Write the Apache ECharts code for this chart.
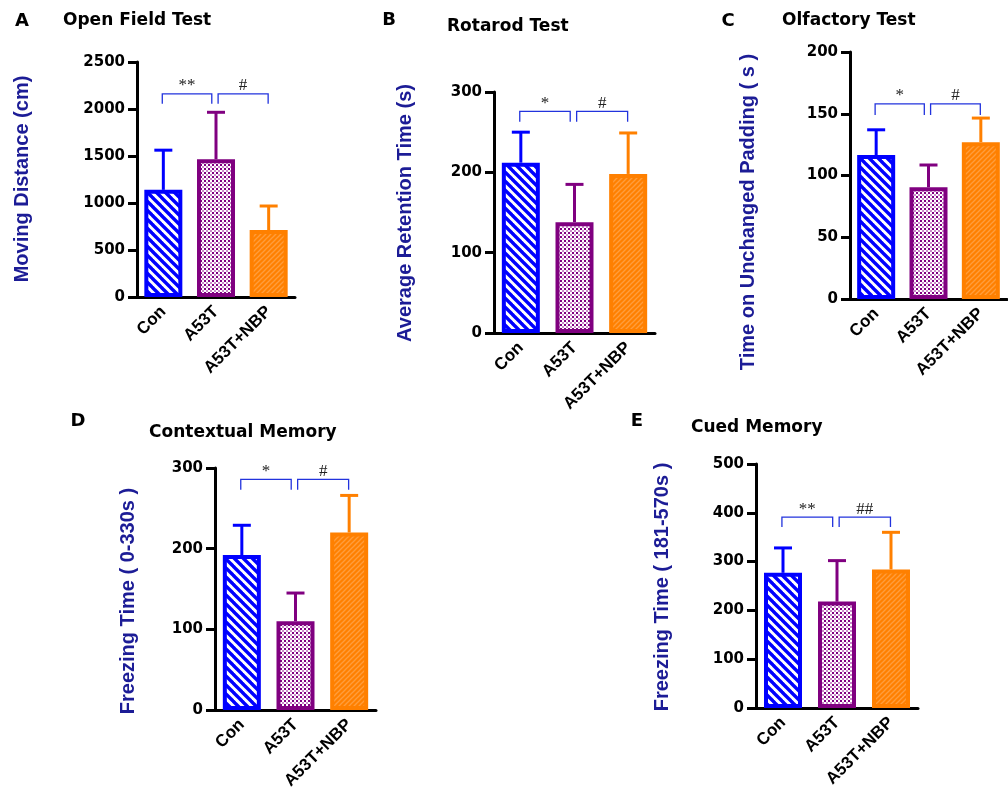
<!DOCTYPE html>
<html>
<head>
<meta charset="utf-8">
<script src="https://cdn.jsdelivr.net/npm/echarts@6/dist/echarts.min.js"></script>
<style>html,body{margin:0;padding:0;background:#fff}#main{width:1008px;height:799px}</style>
</head>
<body>
<div id="main"></div>
<script>
// ---------- data ----------
const categories = ['Con', 'A53T', 'A53T+NBP'];

const openFieldMean = [1140, 1465, 712];
const openFieldErr  = [1562, 1965, 968];
const rotarodMean   = [212, 138, 198];
const rotarodErr    = [250, 185, 249];
const olfactoryMean = [116.5, 90.5, 127];
const olfactoryErr  = [137, 108.5, 146.5];
const contextualMean = [192, 110, 220];
const contextualErr  = [229, 145, 266];
const cuedMean = [277, 218, 284];
const cuedErr  = [328, 302, 360];

const axisMax      = [2500, 300, 200, 300, 500];
const axisInterval = [500, 100, 50, 100, 100];

const panelLetters = ['A', 'B', 'C', 'D', 'E'];
const panelTitles  = ['Open Field Test', 'Rotarod Test', 'Olfactory Test', 'Contextual Memory', 'Cued Memory'];
const yNames = ['Moving Distance (cm)', 'Average Retention Time (s)', 'Time on Unchanged Padding ( s )',
                'Freezing Time ( 0-330s )', 'Freezing Time ( 181-570s )'];

// significance brackets: [from, to, top, bottom]
const bracketsA = [[0, 1, 2160, 2055], [1, 2, 2160, 2055]];
const bracketsB = [[0, 1, 276, 263], [1, 2, 276, 263]];
const bracketsC = [[0, 1, 158, 149], [1, 2, 158, 149]];
const bracketsD = [[0, 1, 286, 273], [1, 2, 286, 273]];
const bracketsE = [[0, 1, 391, 371], [1, 2, 391, 371]];
const labelsA = ['**', '#'];
const labelsB = ['*', '#'];
const labelsC = ['*', '#'];
const labelsD = ['*', '#'];
const labelsE = ['**', '##'];

// ---------- layout / style ----------
const FONT = "'Liberation Sans', Arial, sans-serif";
const WIDE = "'DejaVu Sans', sans-serif";
const grids = [
  {left: 137, top: 62, width: 158, height: 235},
  {left: 494, top: 92, width: 161, height: 241},
  {left: 850, top: 52, width: 157, height: 247},
  {left: 215, top: 468, width: 161, height: 242},
  {left: 756, top: 464, width: 162, height: 244}
];
const letterPos = [[22, 21], [389, 20], [728, 21], [78, 421], [637, 421]];
const titlePos  = [[63, 21], [447, 27], [782, 21], [149, 433], [691, 428]];
const namePos   = [[22, 179], [405, 213], [748, 212], [128, 601], [662, 587]];
const bracketOff = [[-0.02, -0.08], [0.04, -0.01]];

const BLUE = '#0000ff', PURPLE = '#800080', ORANGE = '#ff8000';
const colors = [BLUE, PURPLE, ORANGE];

function stripePattern() {
  const s = 9, c = document.createElement('canvas');
  c.width = s; c.height = s;
  const g = c.getContext('2d');
  g.fillStyle = '#ffffff'; g.fillRect(0, 0, s, s);
  g.strokeStyle = BLUE; g.lineWidth = 3.4;
  [-s, 0, s].forEach(o => { g.beginPath(); g.moveTo(o - 1, -1); g.lineTo(o + s + 1, s + 1); g.stroke(); });
  return c;
}
function dotPattern() {
  const s = 4, c = document.createElement('canvas');
  c.width = s; c.height = s;
  const g = c.getContext('2d');
  g.fillStyle = '#ffffff'; g.fillRect(0, 0, s, s);
  g.fillStyle = PURPLE; g.fillRect(0, 0, 2, 2);
  g.fillStyle = '#c98ac9'; g.fillRect(2, 2, 2, 2);
  return c;
}
function orangePattern() {
  const s = 5, c = document.createElement('canvas');
  c.width = s; c.height = s;
  const g = c.getContext('2d');
  g.fillStyle = ORANGE; g.fillRect(0, 0, s, s);
  g.strokeStyle = '#ff9d3c'; g.lineWidth = 1.3;
  [-s, 0, s].forEach(o => { g.beginPath(); g.moveTo(o - 1, s + 1); g.lineTo(o + s + 1, -1); g.stroke(); });
  return c;
}
const fills = [
  {image: stripePattern(), repeat: 'repeat'},
  {image: dotPattern(), repeat: 'repeat'},
  {image: orangePattern(), repeat: 'repeat'}
];

const means = [openFieldMean, rotarodMean, olfactoryMean, contextualMean, cuedMean];
const errs  = [openFieldErr, rotarodErr, olfactoryErr, contextualErr, cuedErr];
const brackets = [bracketsA, bracketsB, bracketsC, bracketsD, bracketsE];
const bracketLabels = [labelsA, labelsB, labelsC, labelsD, labelsE];

const option = {
  animation: false,
  backgroundColor: '#ffffff',
  grid: grids.map(g => Object.assign({containLabel: false}, g)),
  xAxis: grids.map((g, i) => ({
    type: 'category', gridIndex: i, data: categories,
    axisLine: {lineStyle: {color: '#000', width: 3}},
    axisTick: {alignWithLabel: true, length: 8, lineStyle: {color: '#000', width: 3}},
    axisLabel: {rotate: 45, interval: 0, margin: 12, color: '#000', fontWeight: 'bold', fontSize: 17, fontFamily: FONT}
  })),
  yAxis: grids.map((g, i) => ({
    type: 'value', gridIndex: i, min: 0, max: axisMax[i], interval: axisInterval[i],
    splitLine: {show: false},
    axisLine: {show: true, lineStyle: {color: '#000', width: 3}},
    axisTick: {show: true, length: 9, lineStyle: {color: '#000', width: 3}},
    axisLabel: {margin: 12, color: '#000', fontWeight: 'bold', fontSize: 15, fontFamily: WIDE,
                formatter: v => String(v)}
  })),
  series: [],
  graphic: []
};

for (let p = 0; p < 5; p++) {
  option.series.push({
    type: 'custom', xAxisIndex: p, yAxisIndex: p, z: 1,
    data: categories.map((c, i) => [i, means[p][i], errs[p][i]]),
    renderItem: function (params, api) {
      const i = api.value(0);
      const a = api.coord([i, api.value(1)]);
      const b = api.coord([i, api.value(2)]);
      const col = colors[params.dataIndex];
      return {type: 'group', children: [
        {type: 'line', shape: {x1: a[0], y1: a[1], x2: b[0], y2: b[1]}, style: {stroke: col, lineWidth: 3}},
        {type: 'line', shape: {x1: b[0] - 9, y1: b[1], x2: b[0] + 9, y2: b[1]}, style: {stroke: col, lineWidth: 3}}
      ]};
    }
  });
  option.series.push({
    type: 'bar', xAxisIndex: p, yAxisIndex: p, z: 2, barWidth: 38,
    data: means[p].map((v, i) => ({value: v, itemStyle: {color: fills[i], borderColor: colors[i], borderWidth: 4}}))
  });
  const labs = bracketLabels[p];
  option.series.push({
    type: 'custom', xAxisIndex: p, yAxisIndex: p, z: 3,
    data: brackets[p],
    renderItem: function (params, api) {
      const band = api.size([1, 0])[0];
      const off = bracketOff[params.dataIndex];
      const xa = api.coord([api.value(0), 0])[0] + off[0] * band;
      const xb = api.coord([api.value(1), 0])[0] + off[1] * band;
      const yt = api.coord([0, api.value(2)])[1];
      const yb = api.coord([0, api.value(3)])[1];
      return {type: 'group', children: [
        {type: 'polyline', shape: {points: [[xa, yb], [xa, yt], [xb, yt], [xb, yb]]},
         style: {stroke: '#2233dd', lineWidth: 1.3, fill: null}},
        {type: 'text', x: (xa + xb) / 2, y: yt - 8,
         style: {text: labs[params.dataIndex], fill: '#222', font: "17px 'Liberation Serif', serif",
                 align: 'center', verticalAlign: 'middle', textAlign: 'center', textVerticalAlign: 'middle'}}
      ]};
    }
  });

  option.graphic.push({type: 'text', x: letterPos[p][0], y: letterPos[p][1],
    style: {text: panelLetters[p], fill: '#000', font: 'bold 18px ' + WIDE,
            align: 'center', verticalAlign: 'middle', textAlign: 'center', textVerticalAlign: 'middle'}});
  option.graphic.push({type: 'text', x: titlePos[p][0], y: titlePos[p][1],
    style: {text: panelTitles[p], fill: '#000', font: 'bold 17px ' + WIDE,
            align: 'left', verticalAlign: 'middle', textAlign: 'left', textVerticalAlign: 'middle'}});
  option.graphic.push({type: 'text', x: namePos[p][0], y: namePos[p][1], rotation: Math.PI / 2,
    style: {text: yNames[p], fill: '#1c1c96', font: 'bold 20px ' + FONT,
            align: 'center', verticalAlign: 'middle', textAlign: 'center', textVerticalAlign: 'middle'}});
}

const chart = echarts.init(document.getElementById('main'), null, {renderer: 'canvas'});
chart.setOption(option);
</script>
</body>
</html>
